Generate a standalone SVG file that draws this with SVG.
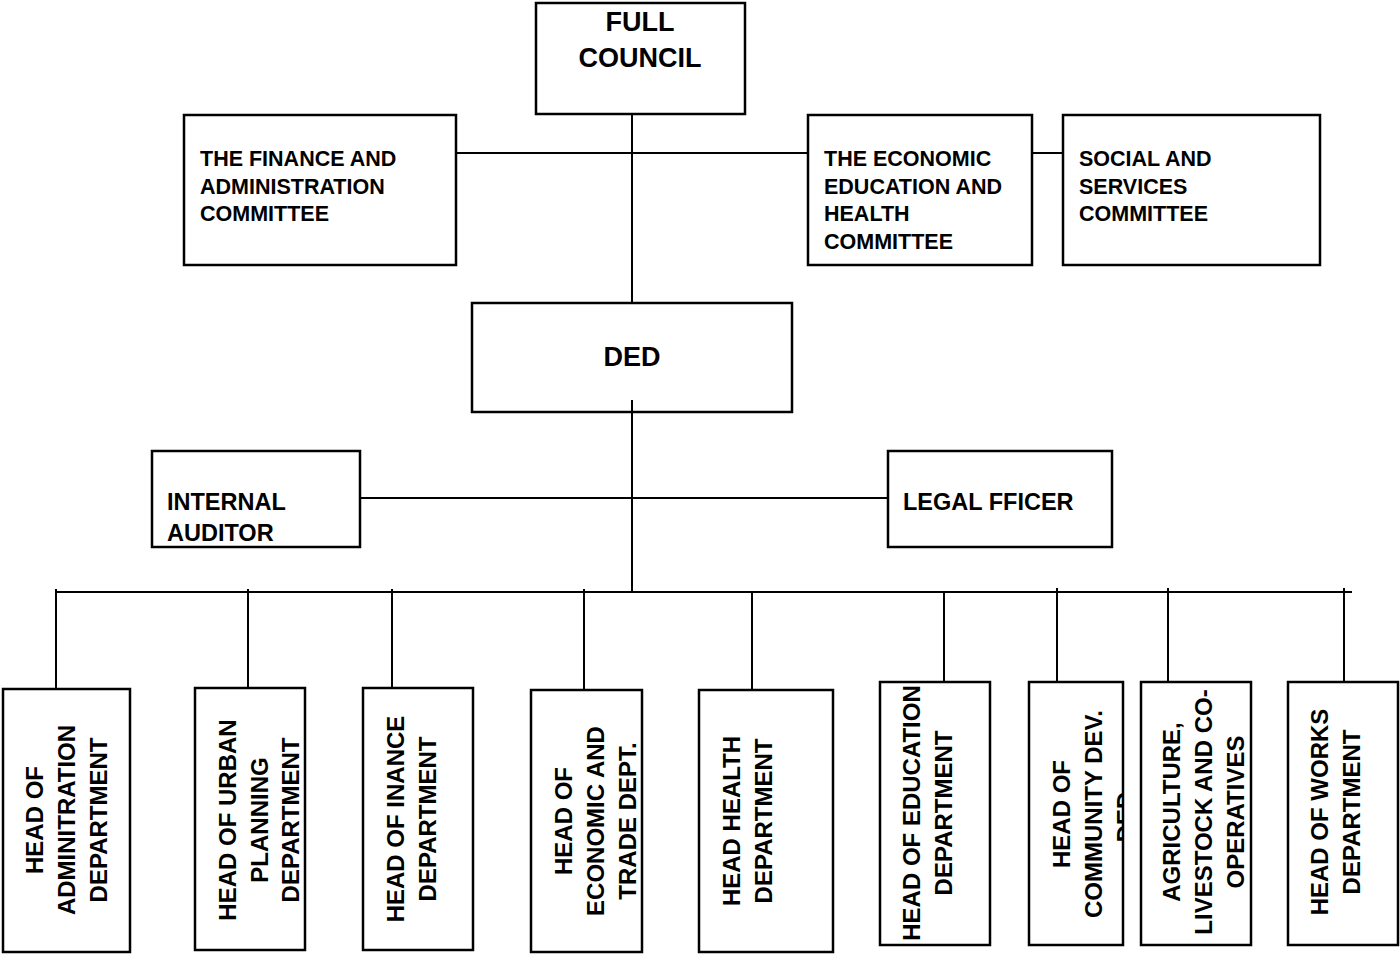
<svg xmlns="http://www.w3.org/2000/svg" width="1400" height="954" viewBox="0 0 1400 954">
<style>
.box{fill:#fff;stroke:#000;stroke-width:2.5}
.ln{stroke:#000;stroke-width:2;fill:none}
text{font-family:"Liberation Sans",Arial,sans-serif;font-weight:bold;fill:#000}
.t21{font-size:21.5px}
.t27{font-size:27px}
.t24{font-size:23.5px}
.v{font-size:24px;text-anchor:middle}
</style>
<defs>
<clipPath id="clip7"><rect x="1029" y="682" width="94" height="263"/></clipPath>
</defs>
<rect width="1400" height="954" fill="#fff"/>
<g id="connectors">
<line class="ln" x1="632" y1="114" x2="632" y2="303"/>
<line class="ln" x1="456" y1="153" x2="808" y2="153"/>
<line class="ln" x1="1032" y1="153" x2="1063" y2="153"/>
<line class="ln" x1="632" y1="400" x2="632" y2="593"/>
<line class="ln" x1="360" y1="498" x2="888" y2="498"/>
<line class="ln" x1="56" y1="592" x2="1352" y2="592"/>
<line class="ln" x1="56" y1="589" x2="56" y2="689"/>
<line class="ln" x1="248" y1="589" x2="248" y2="688"/>
<line class="ln" x1="392" y1="589" x2="392" y2="688"/>
<line class="ln" x1="584" y1="589" x2="584" y2="690"/>
<line class="ln" x1="752" y1="591" x2="752" y2="690"/>
<line class="ln" x1="944" y1="591" x2="944" y2="689"/>
<line class="ln" x1="1057" y1="588" x2="1057" y2="683"/>
<line class="ln" x1="1168" y1="588" x2="1168" y2="683"/>
<line class="ln" x1="1344" y1="588" x2="1344" y2="683"/>
</g>
<g id="full-council">
<rect class="box" x="536" y="3" width="209" height="111"/>
<text class="t27" x="640" y="31" text-anchor="middle">FULL</text>
<text class="t27" x="640" y="67" text-anchor="middle">COUNCIL</text>
</g>
<g id="finance-committee">
<rect class="box" x="184" y="115" width="272" height="150"/>
<text class="t21" x="200" y="166">THE FINANCE AND</text>
<text class="t21" x="200" y="194">ADMINISTRATION</text>
<text class="t21" x="200" y="221">COMMITTEE</text>
</g>
<g id="economic-committee">
<rect class="box" x="808" y="115" width="224" height="150"/>
<text class="t21" x="824" y="166">THE ECONOMIC</text>
<text class="t21" x="824" y="194">EDUCATION AND</text>
<text class="t21" x="824" y="221">HEALTH</text>
<text class="t21" x="824" y="249">COMMITTEE</text>
</g>
<g id="social-committee">
<rect class="box" x="1063" y="115" width="257" height="150"/>
<text class="t21" x="1079" y="166">SOCIAL AND</text>
<text class="t21" x="1079" y="194">SERVICES</text>
<text class="t21" x="1079" y="221">COMMITTEE</text>
</g>
<g id="ded">
<rect class="box" x="472" y="303" width="320" height="109"/>
<line class="ln" x1="632" y1="400" x2="632" y2="412"/>
<text class="t27" x="632" y="366" text-anchor="middle">DED</text>
</g>
<g id="internal-auditor">
<rect class="box" x="152" y="451" width="208" height="96"/>
<text class="t24" x="167" y="510">INTERNAL</text>
<text class="t24" x="167" y="541">AUDITOR</text>
</g>
<g id="legal-officer">
<rect class="box" x="888" y="451" width="224" height="96"/>
<text class="t24" x="903" y="510">LEGAL FFICER</text>
</g>
<g id="head-administration">
<rect class="box" x="3" y="689" width="127" height="263"/>
<text class="v" transform="translate(43,820) rotate(-90)">HEAD OF</text>
<text class="v" transform="translate(75,820) rotate(-90)">ADMINITRATION</text>
<text class="v" transform="translate(107,820) rotate(-90)">DEPARTMENT</text>
</g>
<g id="head-urban-planning">
<rect class="box" x="195" y="688" width="110" height="262"/>
<text class="v" transform="translate(236,820) rotate(-90)">HEAD OF URBAN</text>
<text class="v" transform="translate(268,820) rotate(-90)">PLANNING</text>
<text class="v" transform="translate(299,820) rotate(-90)">DEPARTMENT</text>
</g>
<g id="head-finance">
<rect class="box" x="363" y="688" width="110" height="262"/>
<text class="v" transform="translate(404,819) rotate(-90)">HEAD OF INANCE</text>
<text class="v" transform="translate(436,819) rotate(-90)">DEPARTMENT</text>
</g>
<g id="head-economic-trade">
<rect class="box" x="531" y="690" width="111" height="262"/>
<text class="v" transform="translate(572,821) rotate(-90)">HEAD OF</text>
<text class="v" transform="translate(604,821) rotate(-90)">ECONOMIC AND</text>
<text class="v" transform="translate(636,821) rotate(-90)">TRADE DEPT.</text>
</g>
<g id="head-health">
<rect class="box" x="699" y="690" width="134" height="262"/>
<text class="v" transform="translate(740,821) rotate(-90)">HEAD HEALTH</text>
<text class="v" transform="translate(772,821) rotate(-90)">DEPARTMENT</text>
</g>
<g id="head-education">
<rect class="box" x="880" y="682" width="110" height="263"/>
<text class="v" transform="translate(920,813) rotate(-90)">HEAD OF EDUCATION</text>
<text class="v" transform="translate(952,813) rotate(-90)">DEPARTMENT</text>
</g>
<g id="head-community">
<rect class="box" x="1029" y="682" width="94" height="263"/>
<text class="v" transform="translate(1070,814) rotate(-90)">HEAD OF</text>
<text class="v" transform="translate(1102,814) rotate(-90)">COMMUNITY DEV.</text>
<g clip-path="url(#clip7)">
<text class="v" transform="translate(1134,817) rotate(-90)">DED</text>
</g>
</g>
<g id="head-agriculture">
<rect class="box" x="1141" y="682" width="110" height="263"/>
<text class="v" transform="translate(1180,812) rotate(-90)">AGRICULTURE,</text>
<text class="v" transform="translate(1212,812) rotate(-90)">LIVESTOCK AND CO-</text>
<text class="v" transform="translate(1244,812) rotate(-90)">OPERATIVES</text>
</g>
<g id="head-works">
<rect class="box" x="1288" y="682" width="110" height="263"/>
<text class="v" transform="translate(1328,812) rotate(-90)">HEAD OF WORKS</text>
<text class="v" transform="translate(1360,812) rotate(-90)">DEPARTMENT</text>
</g>
</svg>
